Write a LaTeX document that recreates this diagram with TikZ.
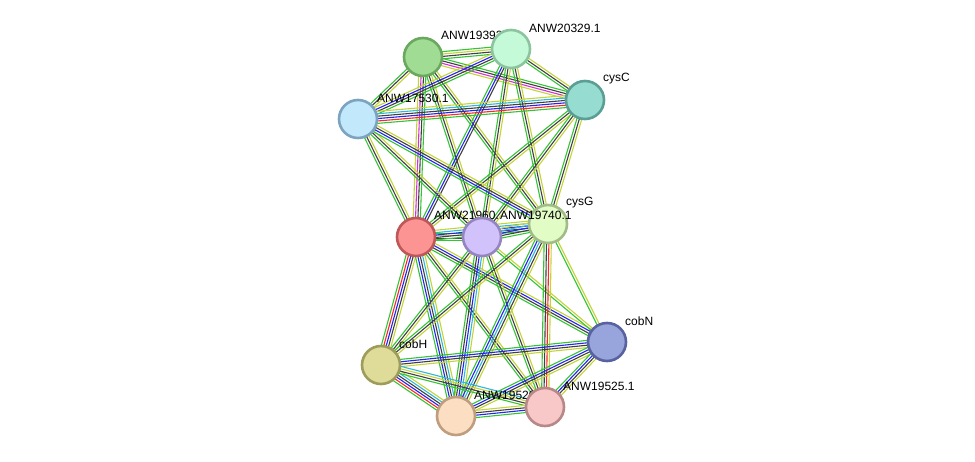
\documentclass[tikz,border=0pt]{standalone}
\usepackage{fontspec}
\setmainfont{Liberation Sans}
\usetikzlibrary{calc}
\pgfdeclarelayer{edges}
\pgfsetlayers{edges,main}
\definecolor{sG}{RGB}{52,196,52}
\definecolor{sK}{RGB}{64,64,64}
\definecolor{sY}{RGB}{196,212,56}
\definecolor{sB}{RGB}{36,36,240}
\definecolor{sR}{RGB}{250,40,40}
\definecolor{sM}{RGB}{214,48,214}
\definecolor{sC}{RGB}{48,184,216}
\tikzset{
  prot/.style={circle,minimum size=38pt,inner sep=0pt,line width=2.6pt},
  lbl/.style={anchor=west,inner sep=0pt,font=\fontsize{12}{14}\selectfont},
  chan/.style={line width=1.1pt}
}
\newcommand\sedge[3]{%
  \foreach \c [count=\n] in {#3} {\xdef\ncount{\n}}%
  \foreach \c [count=\i] in {#3} {%
    \pgfmathsetmacro\off{(\i-(\ncount+1)/2)*2.4}%
    \draw[chan,draw=\c] ($(#1.center)!\off pt!90:(#2.center)$) -- ($(#2.center)!\off pt!-90:(#1.center)$);
  }%
}
\begin{document}
\begin{tikzpicture}[x=1pt,y=-1pt]
\useasboundingbox (0,0) rectangle (975,462);
\node[prot,fill={rgb,255:red,160;green,220;blue,148},draw={rgb,255:red,106;green,168;blue,96}] (A) at (423,57) {};
\node[lbl] (lA) at (441,35) {ANW19392.1};
\node[prot,fill={rgb,255:red,196;green,250;blue,216},draw={rgb,255:red,140;green,196;blue,160}] (B) at (511,49) {};
\node[lbl] (lB) at (529,28) {ANW20329.1};
\node[prot,fill={rgb,255:red,150;green,220;blue,208},draw={rgb,255:red,90;green,158;blue,148}] (C) at (585,100) {};
\node[lbl] (lC) at (603,79) {cysC};
\node[prot,fill={rgb,255:red,194;green,232;blue,252},draw={rgb,255:red,124;green,164;blue,192}] (D) at (358,119) {};
\node[lbl] (lD) at (377,98) {ANW17530.1};
\node[prot,fill={rgb,255:red,252;green,148;blue,148},draw={rgb,255:red,190;green,88;blue,88}] (E) at (416,237) {};
\node[lbl] (lE) at (434,215) {ANW21960.};
\node[prot,fill={rgb,255:red,226;green,252;blue,198},draw={rgb,255:red,162;green,188;blue,136}] (G) at (548,224) {};
\node[lbl] (lG) at (566,203) {cysG};
\node[prot,fill={rgb,255:red,210;green,194;blue,252},draw={rgb,255:red,148;green,132;blue,192}] (F) at (482,237) {};
\node[lbl] (lF) at (500,215) {ANW19740.1};
\node[prot,fill={rgb,255:red,152;green,164;blue,220},draw={rgb,255:red,88;green,98;blue,160}] (H) at (607,342) {};
\node[lbl] (lH) at (625,321) {cobN};
\node[prot,fill={rgb,255:red,222;green,220;blue,152},draw={rgb,255:red,158;green,156;blue,90}] (I) at (381,365) {};
\node[lbl] (lI) at (399,344) {cobH};
\node[prot,fill={rgb,255:red,252;green,222;blue,194},draw={rgb,255:red,190;green,158;blue,126}] (J) at (456,416) {};
\node[lbl] (lJ) at (474,395) {ANW19520.1};
\node[prot,fill={rgb,255:red,248;green,200;blue,200},draw={rgb,255:red,184;green,136;blue,136}] (K) at (545,407) {};
\node[lbl] (lK) at (563,386) {ANW19525.1};
\begin{pgfonlayer}{edges}
\sedge{A}{B}{sG,sK,sY,sG}
\sedge{A}{C}{sY,sM,sK,sG}
\sedge{A}{D}{sG,sK,sY}
\sedge{A}{E}{sY,sM,sK,sG}
\sedge{A}{F}{sG,sK,sY}
\sedge{A}{G}{sG,sK,sY}
\sedge{B}{C}{sG,sK,sY}
\sedge{B}{D}{sY,sB,sK,sG}
\sedge{B}{E}{sG,sB,sK}
\sedge{B}{F}{sG,sK,sY}
\sedge{B}{G}{sG,sK,sY}
\sedge{C}{D}{sY,sC,sK,sB,sR,sG}
\sedge{C}{E}{sG,sK,sY}
\sedge{C}{F}{sG,sK,sY}
\sedge{C}{G}{sG,sK,sY}
\sedge{D}{E}{sG,sK,sY}
\sedge{D}{F}{sG,sK,sY}
\sedge{D}{G}{sG,sB,sK,sY}
\sedge{E}{F}{sG,sK,sY,sG}
\sedge{E}{G}{sG,sK,sB,sC,sY}
\sedge{E}{H}{sG,sK,sB,sY}
\sedge{E}{I}{sG,sR,sB,sK,sY}
\sedge{E}{J}{sG,sB,sK,sC,sY}
\sedge{E}{K}{sG,sK,sY}
\sedge{F}{G}{sG,sK,sB,sC,sY}
\sedge{F}{H}{sG,sY}
\sedge{F}{I}{sG,sK,sY}
\sedge{F}{J}{sG,sK,sB,sC,sY}
\sedge{F}{K}{sG,sK,sY}
\sedge{G}{H}{sG,sY}
\sedge{G}{I}{sG,sK,sY}
\sedge{G}{J}{sG,sB,sC,sK,sY}
\sedge{G}{K}{sG,sK,sR,sY}
\sedge{H}{I}{sG,sB,sK,sY}
\sedge{H}{J}{sG,sB,sK,sY}
\sedge{H}{K}{sG,sB,sK,sY}
\sedge{I}{J}{sG,sR,sB,sK,sC,sY}
\sedge{I}{K}{sG,sK,sY,sC}
\sedge{J}{K}{sG,sB,sK,sY}
\end{pgfonlayer}
\end{tikzpicture}
\end{document}
